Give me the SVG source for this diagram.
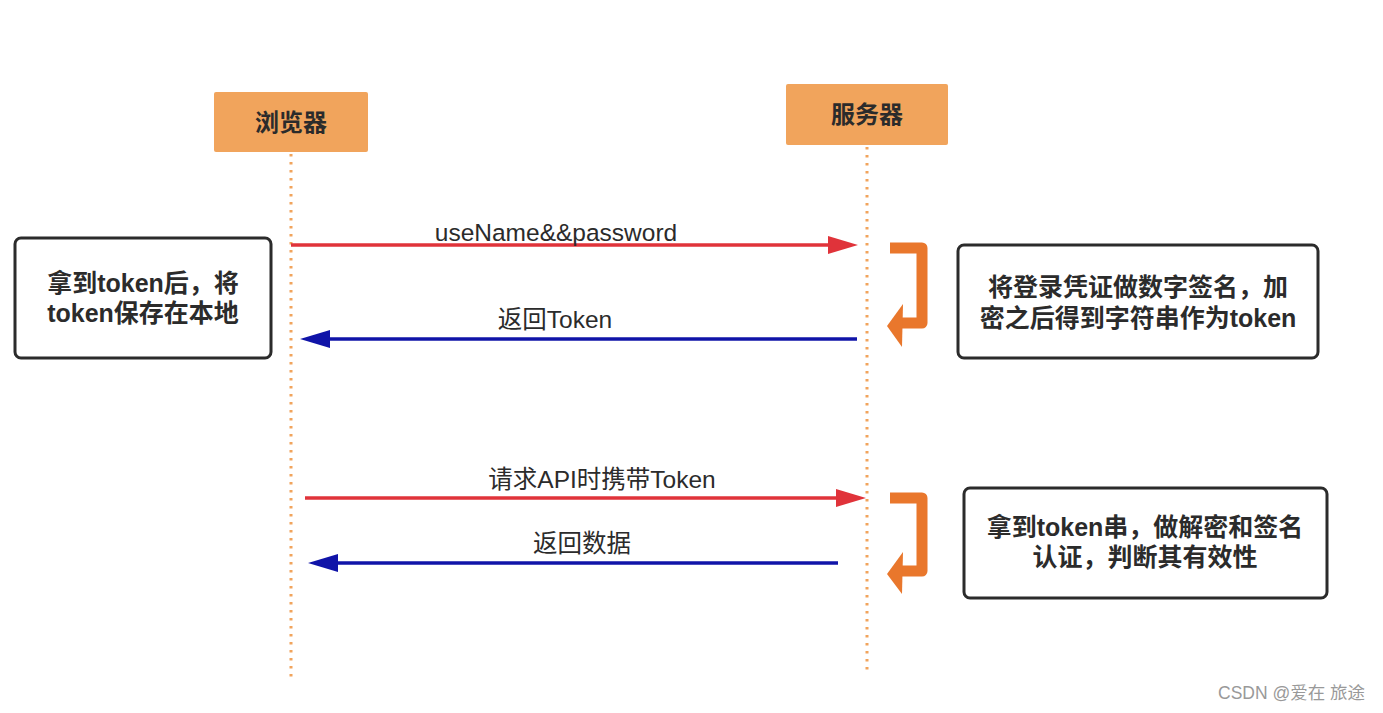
<svg xmlns="http://www.w3.org/2000/svg" width="1383" height="713" viewBox="0 0 1383 713">
<style>
.actor{fill:#F1A45C;}
.actorText{font-family:"Liberation Sans","Noto Sans CJK SC",sans-serif;font-weight:bold;font-size:24px;fill:#2b2b2b;text-anchor:middle;dominant-baseline:central;}
.life{stroke:#F1A45C;stroke-width:3;stroke-dasharray:2.5 5.5;fill:none;}
.note{fill:#fff;stroke:#2b2b2b;stroke-width:3;}
.noteText{font-family:"Liberation Sans","Noto Sans CJK SC",sans-serif;font-weight:bold;font-size:25px;fill:#2b2b2b;text-anchor:middle;dominant-baseline:central;}
.msgText{font-family:"Liberation Sans","Noto Sans CJK SC",sans-serif;font-size:24.5px;fill:#2b2b2b;text-anchor:middle;dominant-baseline:central;}
.req{stroke:#E0333A;stroke-width:3.5;fill:none;}
.reqHead{fill:#E0333A;}
.resp{stroke:#1014A8;stroke-width:3.5;fill:none;}
.respHead{fill:#1014A8;}
.loop{stroke:#E9772C;stroke-width:11;fill:none;stroke-linejoin:round;}
.loopHead{fill:#E9772C;}
.wm{font-family:"Liberation Sans","Noto Sans CJK SC",sans-serif;font-size:17.5px;fill:#999;}
</style>
<rect width="1383" height="713" fill="#fff"/>
<g id="lifelines">
<line class="life" x1="291" y1="154" x2="291" y2="680"/>
<line class="life" x1="867" y1="147" x2="867" y2="670"/>
</g>
<g id="browser">
<rect class="actor" x="214" y="92" width="154" height="60" rx="2"/>
<text class="actorText" x="291" y="122">浏览器</text>
</g>
<g id="server">
<rect class="actor" x="786" y="84" width="162" height="61" rx="2"/>
<text class="actorText" x="867" y="114">服务器</text>
</g>
<g id="connectors">
<line class="req" x1="291" y1="245" x2="830" y2="245"/>
<polygon class="reqHead" points="828,236 858,245 828,254"/>
<text class="msgText" x="556" y="232">useName&amp;&amp;password</text>
<line class="resp" x1="857" y1="339" x2="328" y2="339"/>
<polygon class="respHead" points="300,339 330,330 330,348"/>
<text class="msgText" x="555" y="319">返回Token</text>
<line class="req" x1="305" y1="498" x2="838" y2="498"/>
<polygon class="reqHead" points="836,489 866,498 836,507"/>
<text class="msgText" x="602" y="479">请求API时携带Token</text>
<line class="resp" x1="838" y1="563" x2="336" y2="563"/>
<polygon class="respHead" points="308,563 338,554 338,572"/>
<text class="msgText" x="582" y="543">返回数据</text>
<path class="loop" d="M890,248 L922,248 L922,323 L902,323"/>
<polygon class="loopHead" points="903,304 887,326 902,347"/>
<path class="loop" d="M890,498 L922,498 L922,571 L902,571"/>
<polygon class="loopHead" points="903,552 887,574 902,594"/>
</g>
<g id="note-browser">
<rect class="note" x="15" y="238" width="256" height="120" rx="6"/>
<text class="noteText" x="143" y="283">拿到token后，将</text>
<text class="noteText" x="143" y="313">token保存在本地</text>
</g>
<g id="note-sign">
<rect class="note" x="958" y="245" width="360" height="113" rx="6"/>
<text class="noteText" x="1138" y="287">将登录凭证做数字签名，加</text>
<text class="noteText" x="1138" y="318">密之后得到字符串作为token</text>
</g>
<g id="note-verify">
<rect class="note" x="964" y="488" width="363" height="110" rx="6"/>
<text class="noteText" x="1145" y="527">拿到token串，做解密和签名</text>
<text class="noteText" x="1145" y="557">认证，判断其有效性</text>
</g>
<text class="wm" x="1218" y="699">CSDN @爱在 旅途</text>
</svg>
